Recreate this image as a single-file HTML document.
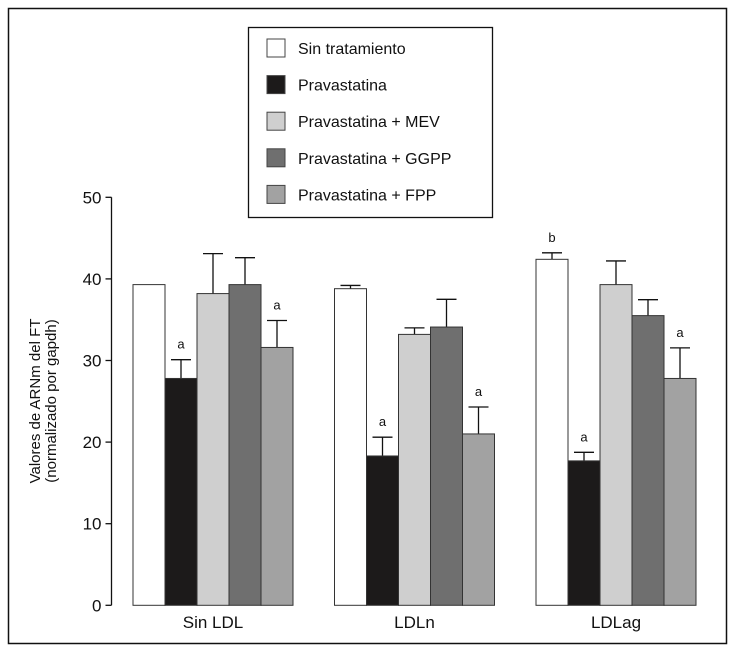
<!DOCTYPE html>
<html><head><meta charset="utf-8"><style>
body{margin:0;background:#fff;}
svg{display:block;font-family:"Liberation Sans",sans-serif;}
</style></head><body>
<svg id="chart" width="734" height="657">
<rect x="8.5" y="8.5" width="718" height="635" fill="none" stroke="#111" stroke-width="1.5"/>
<g id="plot"></g>
</svg>
<script>
const categories=["Sin LDL","LDLn","LDLag"];
const seriesNames=["Sin tratamiento","Pravastatina","Pravastatina + MEV","Pravastatina + GGPP","Pravastatina + FPP"];
const colors=["#ffffff","#1c1a1a","#cfcfcf","#6f6f6f","#a2a2a2"];
const values=[[39.3,27.8,38.2,39.3,31.6],[38.8,18.3,33.2,34.1,21.0],[42.4,17.7,39.3,35.5,27.8]];
const errors=[[0,2.3,4.9,3.3,3.3],[0.4,2.3,0.8,3.4,3.3],[0.8,1.05,2.9,1.95,3.75]];
const labels=[["","a","","","a"],["","a","","","a"],["b","a","","","a"]];
const yTicks=[0,10,20,30,40,50];
const NS="http://www.w3.org/2000/svg";
const g=document.getElementById('plot');
const y0=605.3,pxPer=8.16,axisX=111.5,groupStart=133,groupStep=201.5,barW=32;
function y(v){return y0-v*pxPer;}
function el(t,a,txt){const e=document.createElementNS(NS,t);for(const k in a)e.setAttribute(k,a[k]);if(txt!=null)e.textContent=txt;g.appendChild(e);return e;}
let ax=el('line',{x1:axisX,y1:y(50),x2:axisX,y2:y0,stroke:'#111','stroke-width':1.3});


yTicks.forEach(t=>{
 const l=el('line',{x1:axisX-6,x2:axisX,y1:y(t),y2:y(t),stroke:'#111','stroke-width':1.3});
 
 
 const tx=el('text',{x:axisX-10,y:y(t)+6,'text-anchor':'end','font-size':17,fill:'#111'},t);
 
 
});
const yt=el('text',{transform:'translate(40,401) rotate(-90)','text-anchor':'middle','font-size':15,fill:'#111'});


const t1=document.createElementNS(NS,'tspan');t1.setAttribute('x',0);t1.setAttribute('y',0);t1.textContent='Valores de ARNm del FT';yt.appendChild(t1);
const t2=document.createElementNS(NS,'tspan');t2.setAttribute('x',0);t2.setAttribute('y',16);t2.textContent='(normalizado por gapdh)';yt.appendChild(t2);
categories.forEach((c,gi)=>{
 const gx=groupStart+gi*groupStep;
 values[gi].forEach((v,si)=>{
  const x=gx+si*barW;
  const e=errors[gi][si];
  if(e>0){
   const l1=el('line',{x1:x+barW/2,x2:x+barW/2,y1:y(v),y2:y(v+e),stroke:'#111','stroke-width':1.3});
   
   
   const l2=el('line',{x1:x+barW/2-10,x2:x+barW/2+10,y1:y(v+e),y2:y(v+e),stroke:'#111','stroke-width':1.3});
   
   
  }
  const r=el('rect',{x:x,y:y(v),width:barW,height:y0-y(v),fill:colors[si],stroke:'#333','stroke-width':1});
  
  
  const lab=labels[gi][si];
  if(lab){
   const lt=el('text',{x:x+barW/2,y:y(v+e)-11,'text-anchor':'middle','font-size':13,fill:'#111'},lab);
   
   
  }
 });
 const ct=el('text',{x:gx+barW*2.5,y:628,'text-anchor':'middle','font-size':17,fill:'#111'},c);
 
 
});
const lb=el('rect',{x:248.5,y:27.5,width:244,height:190,fill:'#fff',stroke:'#111','stroke-width':1.3});


seriesNames.forEach((n,i)=>{
 const cy=48+i*36.6;
 const s=el('rect',{x:267,y:cy-9,width:18,height:18,fill:colors[i],stroke:'#444','stroke-width':1});
 
 
 const t=el('text',{x:298,y:cy+6,'font-size':16,fill:'#111'},n);
 
 
});
</script>
</body></html>
